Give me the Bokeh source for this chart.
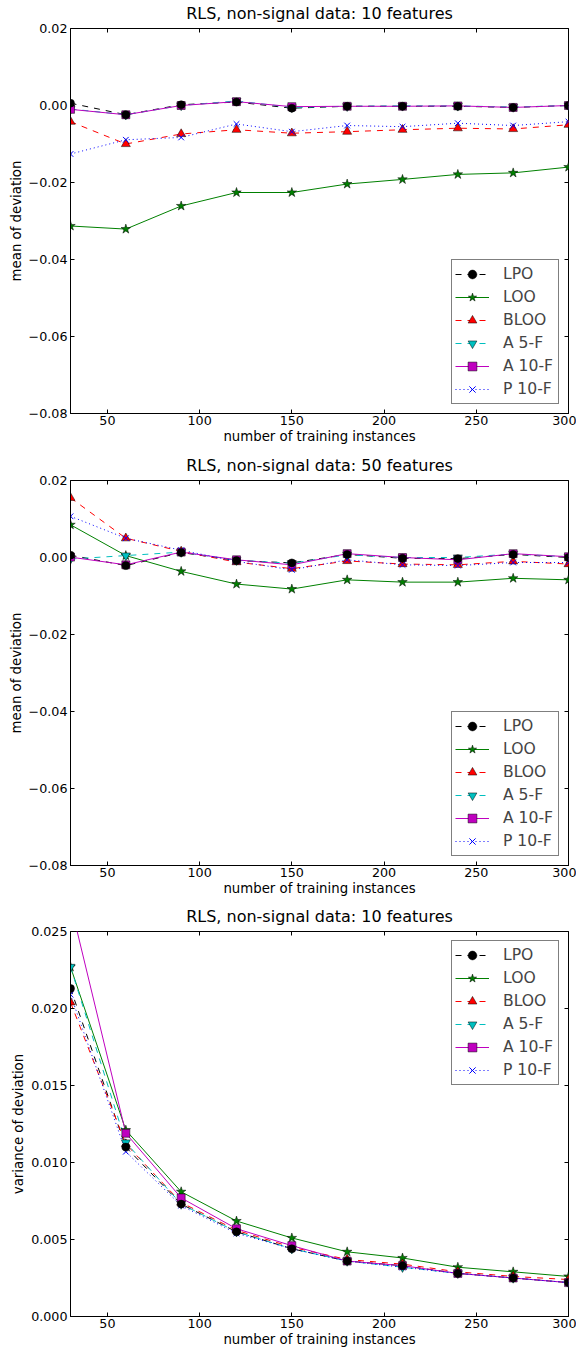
from bokeh.plotting import figure
from bokeh.layouts import column
from bokeh.models import (Range1d, FixedTicker, LinearAxis, CustomJSTickFormatter,
                          Legend, LegendItem)
from bokeh.embed import file_html
from bokeh.resources import INLINE

# ---------------- data ----------------
n_train = [30, 60, 90, 120, 150, 180, 210, 240, 270, 300]
x_ticks = [50, 100, 150, 200, 250, 300]

labels = ["LPO", "LOO", "BLOO", "A 5-F", "A 10-F", "P 10-F"]

# panel 1: mean of deviation, 10 features
mean10_lpo = [0.0006, -0.0024, 0.0002, 0.0009, -0.0007, -0.0002, -0.0002, -0.0002, -0.0005, 0.0000]
mean10_loo = [-0.0313, -0.0321, -0.0261, -0.0226, -0.0226, -0.0204, -0.0192, -0.0179, -0.0175, -0.0160]
mean10_bloo = [-0.0042, -0.0100, -0.0074, -0.0063, -0.0072, -0.0068, -0.0063, -0.0059, -0.0061, -0.0050]
mean10_a5f = [-0.0009, -0.0024, 0.0000, 0.0012, -0.0005, -0.0002, -0.0001, -0.0001, -0.0004, 0.0000]
mean10_a10f = [-0.0010, -0.0024, 0.0000, 0.0010, -0.0003, -0.0002, -0.0002, -0.0001, -0.0005, 0.0000]
mean10_p10f = [-0.0126, -0.0089, -0.0083, -0.0048, -0.0068, -0.0052, -0.0055, -0.0046, -0.0052, -0.0042]

# panel 2: mean of deviation, 50 features
mean50_lpo = [0.0006, -0.0021, 0.0013, -0.0008, -0.0014, 0.0008, -0.0002, -0.0003, 0.0008, 0.0000]
mean50_loo = [0.0085, 0.0005, -0.0036, -0.0069, -0.0082, -0.0058, -0.0064, -0.0064, -0.0054, -0.0058]
mean50_bloo = [0.0155, 0.0050, 0.0016, -0.0012, -0.0029, -0.0009, -0.0017, -0.0019, -0.0010, -0.0017]
mean50_a5f = [-0.0004, 0.0005, 0.0014, -0.0007, -0.0015, 0.0007, 0.0000, 0.0000, 0.0009, 0.0002]
mean50_a10f = [0.0001, -0.0019, 0.0014, -0.0006, -0.0019, 0.0010, 0.0000, -0.0006, 0.0010, 0.0002]
mean50_p10f = [0.0107, 0.0050, 0.0019, -0.0010, -0.0032, -0.0006, -0.0019, -0.0021, -0.0013, -0.0013]

# panel 3: variance of deviation, 10 features
var10_lpo = [0.0213, 0.0110, 0.0073, 0.0055, 0.0044, 0.0036, 0.0033, 0.0028, 0.0025, 0.0022]
var10_loo = [0.0227, 0.0121, 0.0081, 0.0062, 0.0051, 0.0042, 0.0038, 0.0032, 0.0029, 0.0026]
var10_bloo = [0.0204, 0.0112, 0.0074, 0.0056, 0.0045, 0.0037, 0.0034, 0.0029, 0.0026, 0.0024]
var10_a5f = [0.0227, 0.0113, 0.0073, 0.0055, 0.0044, 0.0036, 0.0032, 0.0028, 0.0025, 0.0022]
var10_a10f = [0.0268, 0.0119, 0.0077, 0.0057, 0.0046, 0.0036, 0.0033, 0.0028, 0.0025, 0.0022]
var10_p10f = [0.0209, 0.0107, 0.0072, 0.0054, 0.0044, 0.0036, 0.0032, 0.0028, 0.0025, 0.0022]

mean_ticks = [0.02, 0.0, -0.02, -0.04, -0.06, -0.08]
var_ticks = [0.0, 0.005, 0.010, 0.015, 0.020, 0.025]

# ---------------- styles ----------------
styles = [
    dict(color="#000000", dash="6 6", marker="circle", size=8, fill="#000000", lc="#000000"),
    dict(color="#008000", dash="solid", marker="star", size=10, fill="#008000", lc="#000000"),
    dict(color="#ff0000", dash="6 6", marker="triangle", size=9, fill="#ff0000", lc="#000000"),
    dict(color="#00bfbf", dash="6 6", marker="inverted_triangle", size=9, fill="#00bfbf", lc="#000000"),
    dict(color="#bf00bf", dash="solid", marker="square", size=8, fill="#bf00bf", lc="#000000"),
    dict(color="#0000ff", dash="1 3", marker="x", size=8, fill="#0000ff", lc="#0000ff"),
]
FONT = "DejaVu Sans"


def style_axis(ax, decimals=None, labels_on=True):
    ax.axis_line_color = "black"
    ax.major_tick_line_color = "black"
    ax.major_tick_in = 4
    ax.major_tick_out = 0
    ax.minor_tick_in = 0
    ax.minor_tick_out = 0
    ax.minor_tick_line_color = None
    ax.major_label_text_font = FONT
    ax.axis_label_text_font = FONT
    ax.axis_label_text_font_style = "normal"
    ax.axis_label_text_font_size = "13.3px"
    ax.axis_label_text_color = "black"
    ax.major_label_text_color = "black"
    ax.axis_label_standoff = 2
    if labels_on:
        ax.major_label_text_font_size = "12.7px"
        ax.major_label_standoff = 2
    else:
        ax.major_label_text_font_size = "1px"
        ax.major_label_text_color = None
        ax.major_label_standoff = 0
        ax.formatter = CustomJSTickFormatter(code="return '';")
    if decimals is not None:
        ax.formatter = CustomJSTickFormatter(
            code="return (tick < -1e-12 ? '\\u2212' : '') + Math.abs(tick).toFixed(%d);" % decimals)


def make_panel(title, ylabel, ylo, yhi, yticks, decimals, series, legend_loc, height, border_bottom):
    p = figure(width=576, height=height, output_backend="svg", toolbar_location=None,
               x_range=Range1d(30, 300), y_range=Range1d(ylo, yhi),
               min_border_left=70, min_border_right=8, min_border_top=27,
               min_border_bottom=border_bottom,
               background_fill_color="white", border_fill_color="white")
    p.outline_line_color = "black"
    p.outline_line_width = 1
    p.grid.visible = False

    p.xaxis.ticker = FixedTicker(ticks=x_ticks)
    p.yaxis.ticker = FixedTicker(ticks=yticks)
    p.xaxis.axis_label = "number of training instances"
    p.yaxis.axis_label = ylabel
    for ax in p.xaxis:
        style_axis(ax)
        ax.axis_label_standoff = 1
    for ax in p.yaxis:
        style_axis(ax, decimals)
        ax.major_label_standoff = 3
        ax.axis_label_standoff = 2

    # top axis carries the mirrored ticks and the title text
    top = LinearAxis(ticker=FixedTicker(ticks=x_ticks))
    style_axis(top, labels_on=False)
    top.axis_line_color = None
    top.axis_label = title
    top.axis_label_text_font_size = "16px"
    top.axis_label_standoff = 6
    p.add_layout(top, "above")
    right = LinearAxis(ticker=FixedTicker(ticks=yticks))
    style_axis(right, labels_on=False)
    right.axis_line_color = None
    p.add_layout(right, "right")

    lines = []
    marks = []
    for ys, st in zip(series, styles):
        ln = p.line(n_train, ys, line_color=st["color"], line_width=1, line_dash=st["dash"])
        lines.append(ln)
    for ys, st in list(zip(series, styles))[1:] + [(series[0], styles[0])]:
        mk = p.scatter(n_train, ys, marker=st["marker"], size=st["size"],
                       fill_color=st["fill"], line_color=st["lc"],
                       line_width=0.5 if st["marker"] != "x" else 1)
        marks.append(mk)
    marks = [marks[-1]] + marks[:-1]

    items = [LegendItem(label=lab, renderers=[ln, mk]) for lab, ln, mk in zip(labels, lines, marks)]
    leg = Legend(items=items, location=legend_loc)
    leg.label_text_font = FONT
    leg.label_text_font_size = "15.6px"
    leg.glyph_width = 34
    leg.glyph_height = 22
    leg.label_height = 22
    leg.label_width = 52
    leg.label_standoff = 14
    leg.spacing = 1
    leg.padding = 3
    leg.margin = 9
    leg.border_line_color = "black"
    leg.border_line_width = 1
    leg.background_fill_color = "white"
    leg.background_fill_alpha = 1.0
    p.add_layout(leg, "center")
    return p


p1 = make_panel("RLS, non-signal data: 10 features", "mean of deviation", -0.08, 0.02, mean_ticks, 2,
                [mean10_lpo, mean10_loo, mean10_bloo, mean10_a5f, mean10_a10f, mean10_p10f],
                "bottom_right", 452, 39)
p2 = make_panel("RLS, non-signal data: 50 features", "mean of deviation", -0.08, 0.02, mean_ticks, 2,
                [mean50_lpo, mean50_loo, mean50_bloo, mean50_a5f, mean50_a10f, mean50_p10f],
                "bottom_right", 451, 38)
p3 = make_panel("RLS, non-signal data: 10 features", "variance of deviation", 0.0, 0.025, var_ticks, 3,
                [var10_lpo, var10_loo, var10_bloo, var10_a5f, var10_a10f, var10_p10f],
                "top_right", 449, 36)

layout = column(p1, p2, p3, spacing=0)
open("out.html", "w").write(file_html(layout, INLINE))
